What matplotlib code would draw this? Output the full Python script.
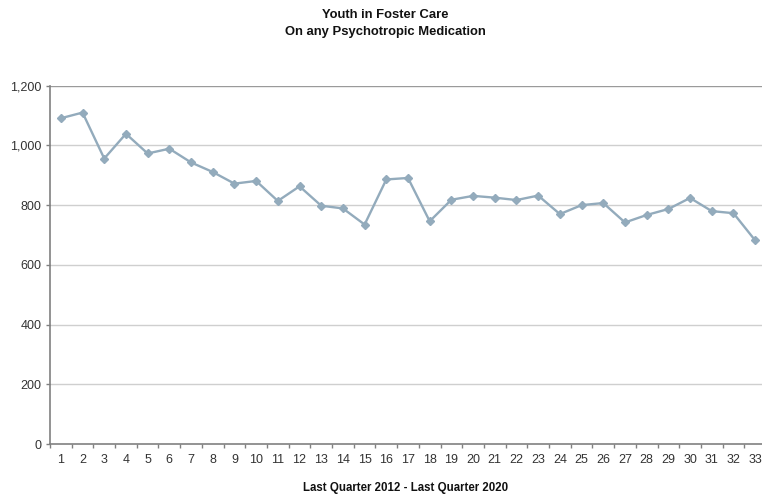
import matplotlib.pyplot as plt
import numpy as np

plt.rcParams['font.family'] = ['Liberation Sans', 'DejaVu Sans']

quarters = list(range(1, 34))
youth_on_meds = [1091, 1110, 956, 1039, 973, 989, 943, 911, 872, 881,
                 814, 863, 798, 789, 735, 886, 891, 746, 818, 831,
                 825, 817, 832, 770, 800, 807, 742, 767, 787, 824,
                 780, 773, 682]
y_ticks = [0, 200, 400, 600, 800, 1000, 1200]

fig = plt.figure(figsize=(7.62, 4.98), dpi=100)
ax = fig.add_axes([50 / 762, 54 / 498, 716 / 762, 358.3 / 498])

line_col = '#93abbc'
ax.plot(quarters, youth_on_meds, color=line_col, lw=1.7,
        marker='D', markersize=4.5, markerfacecolor=line_col,
        markeredgecolor=line_col, zorder=3)

ax.set_xlim(0.5, 33.5)
ax.set_ylim(0, 1200)

# grid
ax.set_yticks(y_ticks)
ax.set_yticklabels(['{:,}'.format(v) for v in y_ticks])
for v in y_ticks[1:]:
    ax.axhline(v, color='#cfcfcf' if v < 1200 else '#9a9a9a', lw=1.0, zorder=1)

# category axis: tick marks between categories, labels in the middle
ax.set_xticks(np.arange(0.5, 34.0, 1.0))
ax.set_xticklabels([])
ax.set_xticks(quarters, minor=True)
ax.set_xticklabels([str(q) for q in quarters], minor=True)
ax.tick_params(axis='x', which='major', direction='out', length=3,
               color='#808080', width=1)
ax.tick_params(axis='x', which='minor', length=0, pad=7,
               labelsize=9, labelcolor='#333333')
ax.tick_params(axis='y', direction='out', length=3, color='#808080',
               width=1, labelsize=9, labelcolor='#333333', pad=3)

for side in ['top', 'right']:
    ax.spines[side].set_visible(False)
for side in ['left', 'bottom']:
    ax.spines[side].set_color('#808080')
    ax.spines[side].set_linewidth(1.2)

fig.text(385 / 762, 1 - 15 / 498, 'Youth in Foster Care', ha='center',
         va='center', fontsize=9.4, fontweight='bold', color='#111111')
fig.text(385 / 762, 1 - 32 / 498, 'On any Psychotropic Medication',
         ha='center', va='center', fontsize=9.4, fontweight='bold',
         color='#111111')
fig.text(406 / 762, 1 - 488 / 498, 'Last Quarter 2012 - Last Quarter 2020',
         ha='center', va='center', fontsize=8.3, fontweight='bold',
         color='#111111')

fig.savefig('out.png', dpi=100)
